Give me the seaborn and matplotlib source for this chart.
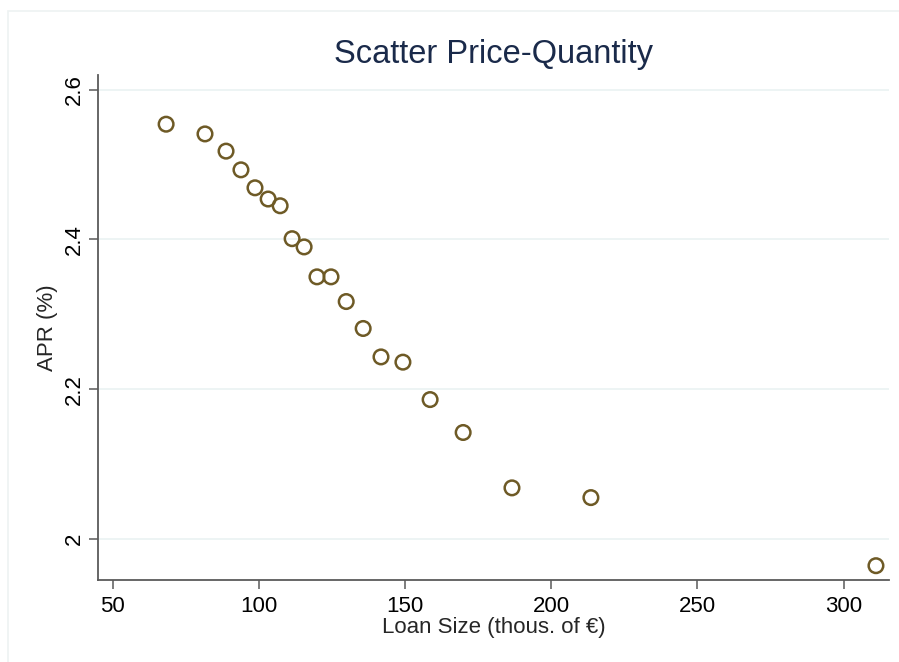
import numpy as np
import pandas as pd
import seaborn as sns
import matplotlib.pyplot as plt
from matplotlib.patches import Rectangle

# binned loan size vs APR
loan_size = [68.3, 81.6, 88.8, 93.9, 98.7, 103.2, 107.3, 111.4, 115.5, 119.9,
             124.7, 129.9, 135.7, 141.8, 149.3, 158.6, 169.9, 186.6, 213.6, 311.1]
apr = [2.554, 2.541, 2.518, 2.493, 2.469, 2.454, 2.445, 2.401, 2.390, 2.350,
       2.350, 2.317, 2.281, 2.243, 2.236, 2.186, 2.142, 2.068, 2.055, 1.964]
xticks = [50, 100, 150, 200, 250, 300]
yticks = [2.0, 2.2, 2.4, 2.6]
ytick_labels = ['2', '2.2', '2.4', '2.6']

df = pd.DataFrame({'loan': loan_size, 'apr': apr})

sns.set_style('white')
plt.rcParams['font.family'] = ['Liberation Sans', 'DejaVu Sans']

fig = plt.figure(figsize=(8.99, 6.62), dpi=100)
ax = fig.add_axes([0.109, 0.124, 0.88, 0.763])

# faint outer frame
fig.patches.append(Rectangle((8/899, -0.1), 1.2, 1 - 11/662 + 0.1, transform=fig.transFigure,
                             fill=False, edgecolor='#eef2f2', linewidth=1.2))

sns.scatterplot(data=df, x='loan', y='apr', ax=ax, marker='o', s=110,
                facecolor='none', edgecolor='#6e5a26', linewidth=1.8)

ax.set_xlim(45.0, 315.6)
ax.set_ylim(1.945, 2.62)
ax.set_xticks(xticks)
ax.set_xticklabels([str(t) for t in xticks])
ax.set_yticks(yticks)
ax.set_yticklabels(ytick_labels, rotation=90, va='center')
ax.grid(axis='y', color='#eaf2f2', linewidth=1.2)
ax.set_axisbelow(True)

for s in ['top', 'right']:
    ax.spines[s].set_visible(False)
for s in ['left', 'bottom']:
    ax.spines[s].set_color('#5a5a5a')
    ax.spines[s].set_linewidth(1.3)

ax.tick_params(axis='both', direction='out', length=6.5, width=1.1, color='#5a5a5a',
               labelsize=16, labelcolor='black', pad=4)
ax.tick_params(axis='x', bottom=True, pad=5)
ax.tick_params(axis='y', left=True, pad=3)

ax.set_xlabel('Loan Size (thous. of €)', fontsize=16, labelpad=0)
ax.set_ylabel('APR (%)', fontsize=16, labelpad=4)
ax.set_title('Scatter Price-Quantity', fontsize=23.5, color='#1a2a4a', pad=8.5)

fig.savefig('out.png', dpi=100, facecolor='white')
